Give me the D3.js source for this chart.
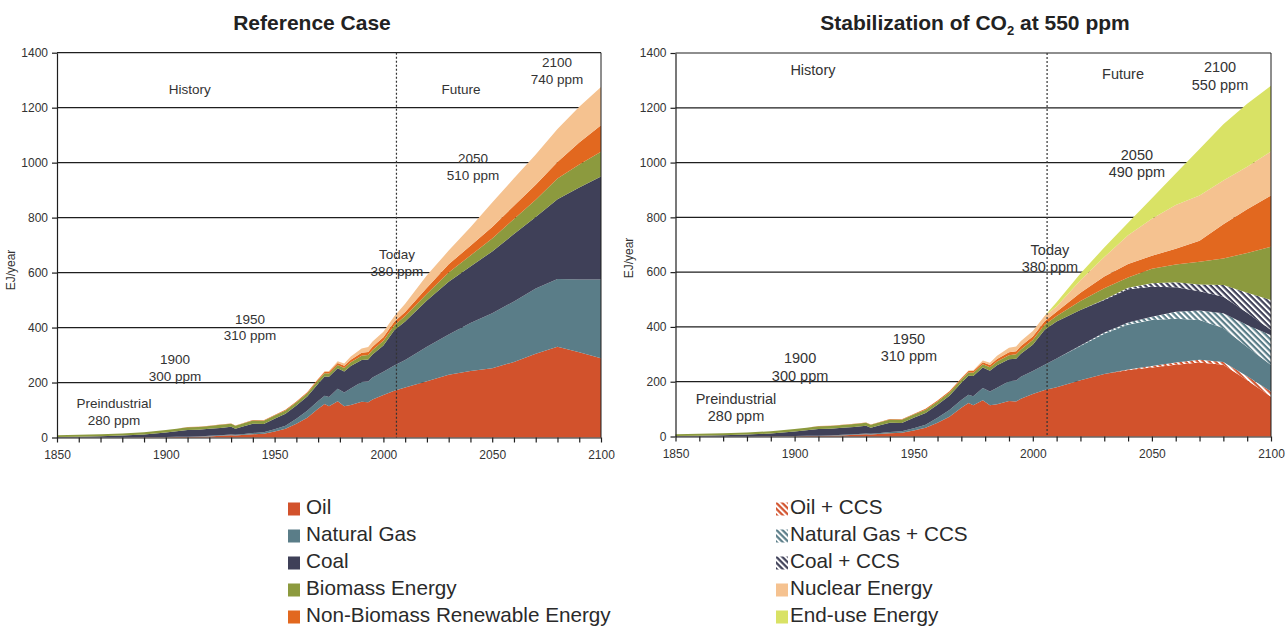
<!DOCTYPE html>
<html>
<head>
<meta charset="utf-8">
<script src="https://cdn.jsdelivr.net/npm/d3@7"></script>
<style>
  body { margin: 0; background: #fff; }
  svg { display: block; font-family: "Liberation Sans", Arial, sans-serif; }
  .narrow { font-family: "Liberation Sans Narrow", "Liberation Sans", Arial, sans-serif; }
</style>
</head>
<body>
<svg id="chart" width="1288" height="631"></svg>
<script>
// ---------------- DATA ----------------
const histYears = [1850,1860,1870,1880,1890,1900,1905,1910,1915,1920,1925,1930,1932,1935,1940,1945,1950,1955,1960,1965,1970,1973,1975,1979,1982,1985,1990,1993,1995,2000,2005];
const histOil   = [0,0,0,0,1,1,2,2,3,4, 6,8,7,9,12,14,22,32,50,72, 105,122,114,132,114,118,130,128,138,155,170];
const histGas   = [0,0,0,0,0,1,1,1,1,2, 2,3,3,3,4,5,8,11,18,25, 28,30,33,45,50,60,72,76,80,84,92];
const histCoal  = [2,3,5,7,10,16,20,24,24,26, 27,28,22,27,34,30,38,43,48,52, 63,70,74,75,76,82,80,80,84,96,128];
const histBio   = [6,7,7,8,8,9,9,10,10,10, 11,11,11,11,12,12,12,12,12,12, 12,12,12,12,13,14,15,16,16,17,18];
const histRenew = [0,0,0,0,0,0,0,1,1,1, 1,1,1,1,2,2,2,3,3,4, 5,5,6,7,8,9,11,11,12,13,13];
const histNuc   = [0,0,0,0,0,0,0,0,0,0, 0,0,0,0,0,0,0,0,0,0, 1,2,3,6,8,12,16,18,19,20,20];
const histZero  = histYears.map(() => 0);

const futYears  = [2010,2020,2030,2040,2050,2060,2070,2080,2090,2100];
// Reference case
const refOil    = [182,205,228,242,252,275,305,330,310,288];
const refGas    = [100,125,147,175,200,220,237,247,265,287];
const refCoal   = [140,168,192,205,225,245,260,290,335,375];
const refBio    = [20,25,33,40,47,55,63,75,83,90];
const refRenew  = [15,22,30,36,42,48,55,60,80,96];
const refNuc    = [30,45,50,67,89,100,110,120,130,139];
// Stabilization at 550 ppm
const stabOil     = [180,205,228,243,252,262,270,262,205,145];
const stabOilCCS  = [0,0,0,2,5,8,10,10,15,19];
const stabGas     = [105,125,147,163,168,160,145,123,107,97];
const stabGasCCS  = [0,2,5,8,12,25,35,55,80,109];
const stabCoal    = [135,130,118,122,110,90,70,60,45,19];
const stabCoalCCS = [0,0,2,5,12,18,25,43,73,109];
const stabBio     = [20,33,41,37,53,65,83,97,145,195];
const stabRenew   = [15,30,43,50,48,57,77,125,160,187];
const stabNuc     = [20,45,71,105,135,160,165,160,155,160];
const stabEndUse  = [15,25,35,45,75,115,170,205,230,240];

const todayYear = 2006;
const gridValues = [200,400,600,800,1000,1200];
const yTicks = [0,200,400,600,800,1000,1200,1400];
const xTicks = d3.range(1850, 2101, 10);

const legendLeft  = ["Oil","Natural Gas","Coal","Biomass Energy","Non-Biomass Renewable Energy"];
const legendRight = ["Oil + CCS","Natural Gas + CCS","Coal + CCS","Nuclear Energy","End-use Energy"];

// ---------------- STYLE ----------------
const C = {
  oil: "#d2522c", gas: "#5a7d88", coal: "#3f4058", bio: "#8c9a3e",
  renew: "#e2681f", nuc: "#f5c290", end: "#d9e265"
};

const svg = d3.select("#chart");
const defs = svg.append("defs");
function hatch(id, color) {
  const p = defs.append("pattern").attr("id", id)
    .attr("patternUnits", "userSpaceOnUse").attr("width", 4.2).attr("height", 4.2)
    .attr("patternTransform", "rotate(-45)");
  p.append("rect").attr("width", 4.2).attr("height", 4.2).attr("fill", color);
  p.append("rect").attr("width", 2).attr("height", 4.2).attr("fill", "#fff");
}
hatch("h-oil", C.oil); hatch("h-gas", C.gas); hatch("h-coal", C.coal);

const years = histYears.concat(futYears);

function drawChart(cfg) {
  const g = svg.append("g");
  const x = d3.scaleLinear().domain([1850, 2100]).range([cfg.x0, cfg.x1]);
  const y = d3.scaleLinear().domain([0, 1400]).range([cfg.y1, cfg.y0]);

  // grid lines (behind areas)
  g.append("g").selectAll("line").data(gridValues).join("line")
    .attr("x1", cfg.x0).attr("x2", cfg.x1)
    .attr("y1", d => y(d)).attr("y2", d => y(d))
    .attr("stroke", "#1e1e1e").attr("stroke-width", 1.2);

  const rows = years.map((yr, i) => {
    const r = { year: yr };
    cfg.series.forEach(s => r[s.key] = s.values[i]);
    return r;
  });
  const layers = d3.stack().keys(cfg.series.map(s => s.key))(rows);
  const area = d3.area().x(d => x(d.data.year)).y0(d => y(d[0])).y1(d => y(d[1]));
  g.append("g").selectAll("path").data(layers).join("path")
    .attr("d", area)
    .attr("fill", (d, i) => cfg.series[i].fill);

  // frame (top & right)
  g.append("line").attr("x1", cfg.x0).attr("x2", cfg.x1).attr("y1", y(1400)).attr("y2", y(1400))
    .attr("stroke", "#1e1e1e").attr("stroke-width", 1.2);
  g.append("line").attr("x1", cfg.x1).attr("x2", cfg.x1).attr("y1", y(1400)).attr("y2", y(0))
    .attr("stroke", "#1e1e1e").attr("stroke-width", 1);

  // today line
  g.append("line").attr("x1", x(todayYear)).attr("x2", x(todayYear))
    .attr("y1", y(1400)).attr("y2", y(0))
    .attr("stroke", "#333").attr("stroke-width", 1.2).attr("stroke-dasharray", "2,2");

  // axes
  const ax = g.append("g").attr("transform", `translate(0,${y(0)})`)
    .call(d3.axisBottom(x).tickValues(xTicks).tickSize(5).tickSizeOuter(0)
      .tickFormat(d => d % 50 === 0 ? String(d) : ""));
  const ay = g.append("g").attr("transform", `translate(${cfg.x0},0)`)
    .call(d3.axisLeft(y).tickValues(yTicks).tickSize(5).tickSizeOuter(0)
      .tickFormat(d => String(d)));
  [ax, ay].forEach(a => {
    a.select(".domain").attr("stroke", "#1e1e1e").attr("stroke-width", 1.2);
    a.selectAll(".tick line").attr("stroke", "#1e1e1e").attr("stroke-width", 1.2);
    a.selectAll(".tick text").attr("class", "narrow").attr("font-size", 12).attr("fill", "#333");
  });
  ax.selectAll(".tick text").attr("dy", "1.1em");
  ay.selectAll(".tick text").attr("dx", "-1");

  // y label
  g.append("text").attr("class", "narrow")
    .attr("transform", `translate(${cfg.yLabelX},${cfg.yLabelY}) rotate(-90)`)
    .attr("text-anchor", "middle").attr("font-size", 12).attr("fill", "#333").text("EJ/year");

  // annotations
  g.append("g").selectAll("text").data(cfg.notes).join("text")
    .attr("class", "narrow")
    .attr("x", d => x(d[1])).attr("y", d => y(d[2]))
    .attr("text-anchor", "middle").attr("dominant-baseline", "middle")
    .attr("font-size", cfg.noteSize).attr("fill", "#333")
    .text(d => d[0]);

  // title
  const t = svg.append("text").attr("x", cfg.titleX).attr("y", 30)
    .attr("text-anchor", "middle").attr("font-size", 21).attr("font-weight", "bold").attr("fill", "#222");
  cfg.title.forEach(part => {
    const ts = t.append("tspan").text(part.t);
    if (part.sub) ts.attr("font-size", 13).attr("dy", 5);
    else if (part.after) ts.attr("dy", -5);
  });
}

drawChart({
  x0: 57, x1: 601, y0: 52.7, y1: 437.5,
  yLabelX: 15, yLabelY: 270, titleX: 312, noteSize: 13.5,
  title: [{ t: "Reference Case" }],
  series: [
    { key: "oil",   fill: C.oil,   values: histOil.concat(refOil) },
    { key: "gas",   fill: C.gas,   values: histGas.concat(refGas) },
    { key: "coal",  fill: C.coal,  values: histCoal.concat(refCoal) },
    { key: "bio",   fill: C.bio,   values: histBio.concat(refBio) },
    { key: "renew", fill: C.renew, values: histRenew.concat(refRenew) },
    { key: "nuc",   fill: C.nuc,   values: histNuc.concat(refNuc) }
  ],
  notes: [
    ["History", 1911, 1264], ["Future", 2035.7, 1261],
    ["2100", 2079.8, 1360], ["740 ppm", 2079.8, 1298],
    ["2050", 2041.2, 1010], ["510 ppm", 2041.2, 948],
    ["Today", 2006.2, 664], ["380 ppm", 2006.2, 602],
    ["1950", 1938.7, 427], ["310 ppm", 1938.7, 366],
    ["1900", 1904.2, 282], ["300 ppm", 1904.2, 220],
    ["Preindustrial", 1876.2, 122], ["280 ppm", 1876.2, 60]
  ]
});

drawChart({
  x0: 675.5, x1: 1271, y0: 53, y1: 436.5,
  yLabelX: 633, yLabelY: 258, titleX: 975, noteSize: 14.5,
  title: [{ t: "Stabilization of CO" }, { t: "2", sub: true }, { t: " at 550 ppm", after: true }],
  series: [
    { key: "oil",     fill: C.oil,          values: histOil.concat(stabOil) },
    { key: "oilCCS",  fill: "url(#h-oil)",  values: histZero.concat(stabOilCCS) },
    { key: "gas",     fill: C.gas,          values: histGas.concat(stabGas) },
    { key: "gasCCS",  fill: "url(#h-gas)",  values: histZero.concat(stabGasCCS) },
    { key: "coal",    fill: C.coal,         values: histCoal.concat(stabCoal) },
    { key: "coalCCS", fill: "url(#h-coal)", values: histZero.concat(stabCoalCCS) },
    { key: "bio",     fill: C.bio,          values: histBio.concat(stabBio) },
    { key: "renew",   fill: C.renew,        values: histRenew.concat(stabRenew) },
    { key: "nuc",     fill: C.nuc,          values: histNuc.concat(stabNuc) },
    { key: "end",     fill: C.end,          values: histZero.concat(stabEndUse) }
  ],
  notes: [
    ["History", 1907.7, 1333], ["Future", 2037.9, 1318],
    ["2100", 2078.6, 1344], ["550 ppm", 2078.6, 1279],
    ["2050", 2043.7, 1024], ["490 ppm", 2043.7, 962],
    ["Today", 2007.2, 677], ["380 ppm", 2007.2, 615],
    ["1950", 1948.0, 352], ["310 ppm", 1948.0, 290],
    ["1900", 1902.3, 283], ["300 ppm", 1902.3, 217],
    ["Preindustrial", 1875.4, 133], ["280 ppm", 1875.4, 71]
  ]
});

// ---------------- LEGEND ----------------
function legend(items, fills, sx, tx) {
  const g = svg.append("g");
  const rows = g.selectAll("g").data(items).join("g")
    .attr("transform", (d, i) => `translate(0,${509 + i * 27})`);
  rows.append("rect").attr("x", sx).attr("y", -6.5).attr("width", 12).attr("height", 13)
    .attr("fill", (d, i) => fills[i]);
  rows.append("text").attr("x", tx).attr("y", 0).attr("dominant-baseline", "middle")
    .attr("font-size", 20.7).attr("fill", "#2a2a2a").text(d => d);
}
legend(legendLeft, [C.oil, C.gas, C.coal, C.bio, C.renew], 288, 306);
legend(legendRight, ["url(#h-oil)", "url(#h-gas)", "url(#h-coal)", C.nuc, C.end], 776, 790);
</script>
</body>
</html>
